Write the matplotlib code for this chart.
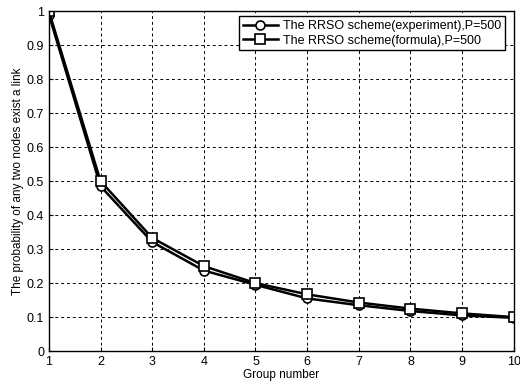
import matplotlib
matplotlib.use("Agg")
import matplotlib.pyplot as plt

groups = [1, 2, 3, 4, 5, 6, 7, 8, 9, 10]
experiment = [0.99, 0.485, 0.321, 0.237, 0.195, 0.155, 0.135, 0.118, 0.105, 0.098]
formula = [1.0, 0.5, 0.333, 0.25, 0.2, 0.167, 0.143, 0.125, 0.111, 0.1]
labels = ["The RRSO scheme(experiment),P=500", "The RRSO scheme(formula),P=500"]

plt.rcParams['font.family'] = ['Liberation Sans', 'DejaVu Sans']
fig = plt.figure(figsize=(5.2, 3.85), dpi=100)
ax = fig.add_axes([0.094, 0.088, 0.894, 0.883])
ax.plot(groups, experiment, color='black', lw=1.8, marker='o', ms=6.5,
        mfc='white', mec='black', mew=1.2, label=labels[0])
ax.plot(groups, formula, color='black', lw=1.8, marker='s', ms=6.5,
        mfc='white', mec='black', mew=1.2, label=labels[1])
ax.set_xlim(1, 10)
ax.set_ylim(0, 1)
ax.set_xticks(range(1, 11))
ax.set_yticks([0, 0.1, 0.2, 0.3, 0.4, 0.5, 0.6, 0.7, 0.8, 0.9, 1])
ax.set_yticklabels(['0', '0.1', '0.2', '0.3', '0.4', '0.5', '0.6', '0.7', '0.8', '0.9', '1'])
ax.grid(True, color='black', linestyle=(0, (3, 3)), lw=0.7)
ax.tick_params(direction='in', labelsize=9, length=3)
for s in ax.spines.values():
    s.set_linewidth(1.0)
ax.set_xlabel('Group number', fontsize=8.5, labelpad=1)
ax.set_ylabel('The probability of any two nodes exist a link', fontsize=8.5, labelpad=2)
leg = ax.legend(loc='upper right', fontsize=9, fancybox=False, edgecolor='black',
                framealpha=1, handlelength=2.8, handletextpad=0.4, borderpad=0.3,
                labelspacing=0.2, borderaxespad=0, bbox_to_anchor=(0.981, 0.985))
leg.get_frame().set_linewidth(1.0)
fig.savefig('out.png', dpi=100)
